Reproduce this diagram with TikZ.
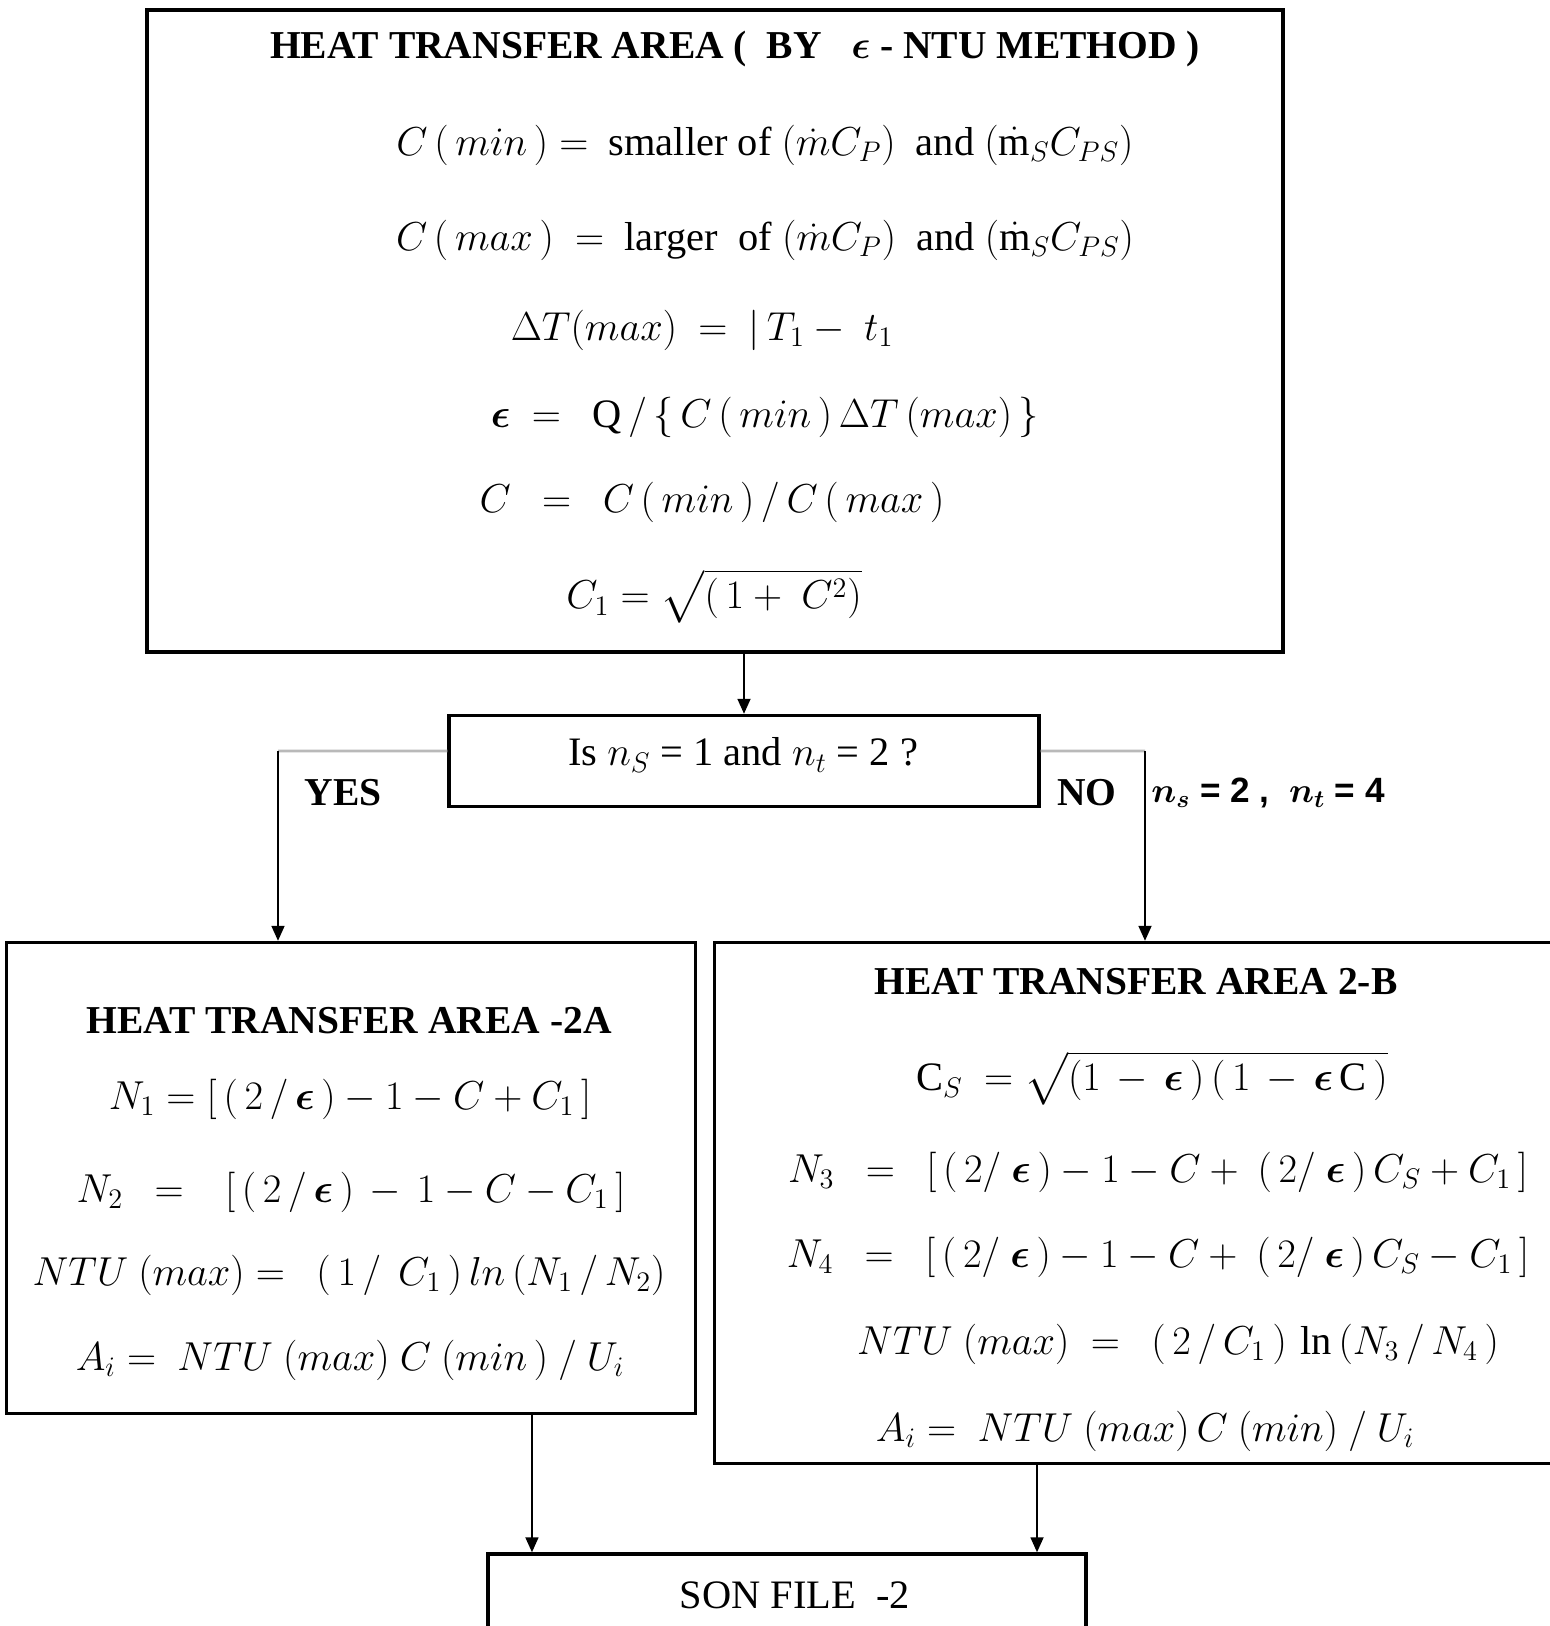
\documentclass[tikz,border=0pt]{standalone}
\usepackage{fix-cm}
\usepackage{amsmath,bm}
\usepackage{fontspec}
\setmainfont{Liberation Serif}
\setsansfont{Liberation Sans}
\usetikzlibrary{arrows.meta}

\begin{document}
\begin{tikzpicture}[x=0.02cm, y=-0.02cm, >={Triangle[length=0.3cm,width=0.26cm]},
    box/.style={draw, line width=2pt, inner sep=0pt},
    link/.style={->, line width=1pt},
    branch/.style={line width=1.6pt, gray!55},
    eqn/.style={inner sep=0pt, font=\fontsize{23}{27}\selectfont},
    txt/.style={inner sep=0pt, font=\fontsize{23}{28}\selectfont},
    head/.style={inner sep=0pt, font=\fontsize{22.5}{27}\selectfont\bfseries}]

    \useasboundingbox (0,0) rectangle (1550,1626);
    \clip (0,0) rectangle (1550,1626);

    % Boxes
    \node[box, minimum width=22.72cm, minimum height=12.84cm] (top) at (715,331) {};
    \node[box, minimum width=11.8cm, minimum height=1.82cm] (ask) at (744,761) {};
    \node[box, minimum width=13.78cm, minimum height=9.42cm] (areaA) at (351,1178) {};
    \node[box, minimum width=16.9cm, minimum height=10.42cm] (areaB) at (1137,1203) {};
    \node[box, minimum width=11.96cm, minimum height=2.92cm] (son) at (787,1627) {};

    % Effectiveness - NTU block
    \node[head] (title) at (735,49) {HEAT TRANSFER AREA ( \ BY \ \ $\bm\epsilon$ - NTU METHOD )};
    \node[eqn] (cmin) at (765,145) {$C\,(\,min\,) =$ \ smaller of $(\dot m C_P)$ \ and $(\dot{\mathrm m}_S C_{PS})$};
    \node[eqn] (cmax) at (765,240) {$C\,(\,max\,) \ = $ \ larger \ of $(\dot m C_P)$ \ and $(\dot{\mathrm m}_S C_{PS})$};
    \node[eqn] (dtmax) at (702,330) {$\Delta T(max) \ = \ |\,T_1 - \ t_1$};
    \node[eqn] (eff) at (765,417) {$\bm\epsilon \ = \ \ \mathrm{Q}\,/\,\{\,C\,(\,min\,)\,\Delta T\,(max)\,\}$};
    \node[eqn] (ratio) at (712,502) {$C \ \ = \ \ C\,(\,min\,)\,/\,C\,(\,max\,)$};
    \node[eqn] (cone) at (714,596) {$C_1 = \sqrt{(\,1 + \ C^2)}$};

    % Decision
    \node[txt] (q) at (743,755) {Is $n_S$ = 1 and $n_t$ = 2 ?};
    \node[head] (yes) at (343,793) {YES};
    \node[head] (no) at (1087,793) {NO};
    \node[inner sep=0pt, anchor=west, font=\fontsize{20}{24}\selectfont\sffamily\bfseries] (pass) at (1151,793)
        {$\bm{n}_{\bm s}$ = 2 , \ $\bm{n}_{\bm t}$ = 4};

    % Area 2A
    \node[head] (titleA) at (349,1021) {HEAT TRANSFER AREA -2A};
    \node[eqn] (n1) at (350,1099) {$N_1 = [\,(\,2\,/\,\bm\epsilon\,) - 1 - C + C_1\,]$};
    \node[eqn] (n2) at (351,1192) {$N_2 \ \ = \ \ \ [\,(\,2\,/\,\bm\epsilon\,) \,-\, 1 - C - C_1\,]$};
    \node[eqn] (ntuA) at (349,1275) {$NTU\ (max) = \ \ (\,1\,/\ \,C_1\,)\,ln\,(N_1\,/\,N_2)$};
    \node[eqn] (aiA) at (350,1360) {$A_i = \ NTU\ (max)\ C\ (min\,)\ /\ U_i$};

    % Area 2-B
    \node[head] (titleB) at (1136,982) {HEAT TRANSFER AREA 2-B};
    \node[eqn] (cs) at (1152,1078) {$\mathrm{C}_S \ = \sqrt{(1\,-\,\bm\epsilon\,)\,(\,1\,-\,\bm\epsilon\,\mathrm{C}\,)}$};
    \node[eqn] (n3) at (1158,1172) {$N_3 \ \ = \ \ [\,(\,2/\ \bm\epsilon\,) - 1 - C + \ (\,2/\ \bm\epsilon\,)\,C_S + C_1\,]$};
    \node[eqn] (n4) at (1158,1257) {$N_4 \ \ = \ \ [\,(\,2/\ \bm\epsilon\,) - 1 - C + \ (\,2/\ \bm\epsilon\,)\,C_S - C_1\,]$};
    \node[eqn] (ntuB) at (1178,1344) {$NTU\ (max) \ = \ \ (\,2\,/\,C_1\,)\,\ln\,(N_3\,/\,N_4\,)$};
    \node[eqn] (aiB) at (1145,1431) {$A_i = \ NTU\ (max)\,C\ (min)\ /\ U_i$};

    % Output
    \node[txt] (sonfile) at (795,1595) {SON FILE \ -2};

    % Connectors
    \draw[link] (ask.north |- top.south) -- (ask.north);

    \coordinate (ycorner) at (278,751);
    \coordinate (ncorner) at (1145,751);
    \draw[branch] ([yshift=0.2cm]ask.west) -- (ycorner);
    \draw[link] (ycorner) -- (ycorner |- areaA.north);
    \draw[branch] ([yshift=0.2cm]ask.east) -- (ncorner);
    \draw[link] (ncorner) -- (ncorner |- areaB.north);

    \draw[link] ([xshift=3.62cm]areaA.south) -- ([xshift=3.62cm]areaA.south |- son.north);
    \draw[link] ([xshift=-2cm]areaB.south) -- ([xshift=-2cm]areaB.south |- son.north);

\end{tikzpicture}
\end{document}
